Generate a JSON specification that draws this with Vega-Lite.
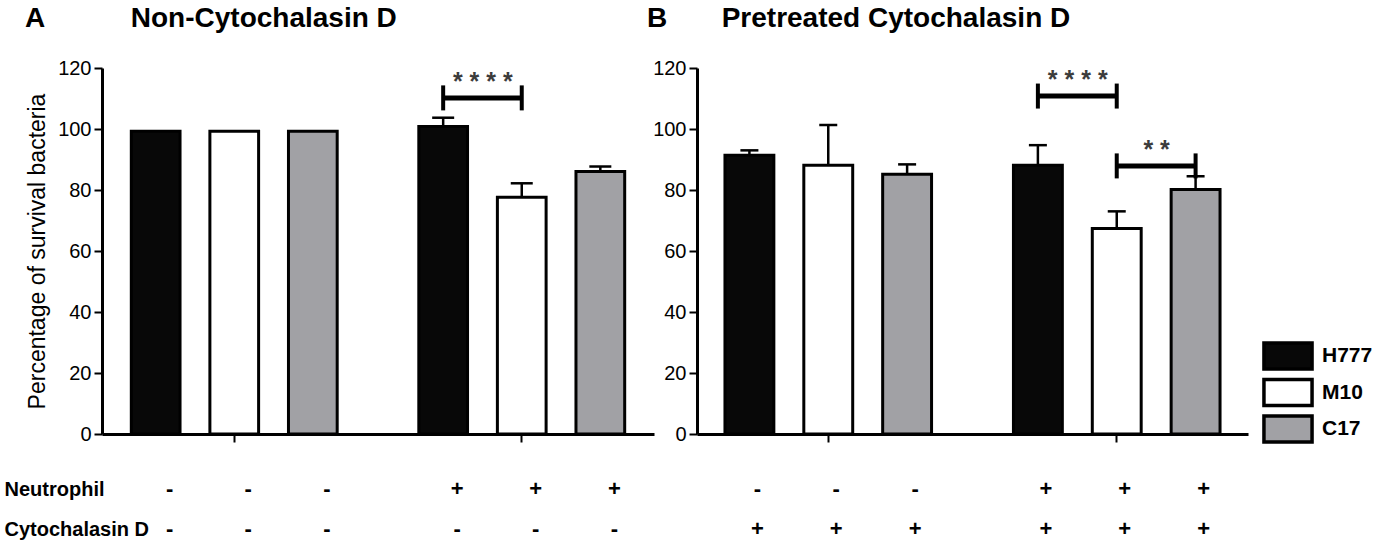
{
  "$schema": "https://vega.github.io/schema/vega-lite/v6.json",
  "background": "white",
  "padding": {"left": 4, "top": 5, "right": 5, "bottom": 5},
  "datasets": {
    "bars": [
      {"panel": "A", "Neutrophil": "-", "Cytochalasin D": "-", "strain": "H777", "mean": 99.3, "upper": null},
      {"panel": "A", "Neutrophil": "-", "Cytochalasin D": "-", "strain": "M10", "mean": 99.3, "upper": null},
      {"panel": "A", "Neutrophil": "-", "Cytochalasin D": "-", "strain": "C17", "mean": 99.3, "upper": null},
      {"panel": "A", "Neutrophil": "+", "Cytochalasin D": "-", "strain": "H777", "mean": 100.8, "upper": 103.7},
      {"panel": "A", "Neutrophil": "+", "Cytochalasin D": "-", "strain": "M10", "mean": 77.6, "upper": 82.2},
      {"panel": "A", "Neutrophil": "+", "Cytochalasin D": "-", "strain": "C17", "mean": 86.1, "upper": 87.7},
      {"panel": "B", "Neutrophil": "-", "Cytochalasin D": "+", "strain": "H777", "mean": 91.4, "upper": 93.0},
      {"panel": "B", "Neutrophil": "-", "Cytochalasin D": "+", "strain": "M10", "mean": 88.1, "upper": 101.3},
      {"panel": "B", "Neutrophil": "-", "Cytochalasin D": "+", "strain": "C17", "mean": 85.2, "upper": 88.4},
      {"panel": "B", "Neutrophil": "+", "Cytochalasin D": "+", "strain": "H777", "mean": 88.1, "upper": 94.7},
      {"panel": "B", "Neutrophil": "+", "Cytochalasin D": "+", "strain": "M10", "mean": 67.4, "upper": 73.0},
      {"panel": "B", "Neutrophil": "+", "Cytochalasin D": "+", "strain": "C17", "mean": 80.2, "upper": 84.5}
    ],
    "sig": [
      {"panel": "A", "Neutrophil": "+", "from": "H777", "to": "M10", "level": 110.2, "label": "* * * *"},
      {"panel": "B", "Neutrophil": "+", "from": "H777", "to": "M10", "level": 110.8, "label": "* * * *"},
      {"panel": "B", "Neutrophil": "+", "from": "M10", "to": "C17", "level": 87.9, "label": "* *"}
    ]
  },
  "config": {
    "font": "Liberation Sans",
    "view": {"stroke": null},
    "axis": {
      "grid": false,
      "domainColor": "#000",
      "domainWidth": 3,
      "tickColor": "#000",
      "tickWidth": 2,
      "tickSize": 8,
      "labelColor": "#000",
      "labelFontSize": 20,
      "titleColor": "#000"
    },
    "title": {"fontSize": 28, "fontWeight": "bold", "color": "#000", "anchor": "start", "frame": "group", "baseline": "alphabetic"}
  },
  "resolve": {
    "scale": {"y": "independent", "x": "independent", "xOffset": "independent", "color": "independent"},
    "legend": {"color": "independent"}
  },
  "columns": 2,
  "bounds": "flush",
  "spacing": {"row": 35, "column": 43},
  "concat": [
    {
      "width": 552,
      "height": 366,
      "title": {"text": "A\u00a0\u00a0\u00a0\u00a0\u00a0\u00a0\u00a0\u00a0\u00a0\u00a0\u00a0Non-Cytochalasin D", "dx": -77, "offset": 25},
      "encoding": {
        "x": {"field": "Neutrophil", "type": "nominal", "scale": {"domain": ["-", "+"], "paddingInner": 0.18, "paddingOuter": 0.05}, "axis": {"title": null, "labels": false}},
        "xOffset": {"field": "strain", "type": "nominal", "scale": {"domain": ["H777", "M10", "C17"], "paddingInner": 0.38, "paddingOuter": 0.19}}
      },
      "layer": [
        {
          "data": {"name": "bars"},
          "transform": [{"filter": "datum.panel == 'A'"}],
          "mark": {"type": "bar", "stroke": "#000", "strokeWidth": 3},
          "encoding": {
            "y": {"field": "mean", "type": "quantitative", "scale": {"domain": [0, 120], "nice": false}, "axis": {"values": [0, 20, 40, 60, 80, 100, 120], "title": "Percentage of survival bacteria", "titleFontSize": 23, "titleFontWeight": "normal", "titlePadding": 8, "labelPadding": 3}},
            "color": {"field": "strain", "type": "nominal", "scale": {"domain": ["H777", "M10", "C17"], "range": ["#080808", "#ffffff", "#a1a1a5"]}, "legend": null}
          }
        },
        {
          "data": {"name": "bars"},
          "transform": [{"filter": "datum.panel == 'A' && datum.upper != null"}],
          "mark": {"type": "rule", "color": "#000", "strokeWidth": 2.5},
          "encoding": {"y": {"field": "mean", "type": "quantitative"}, "y2": {"field": "upper"}}
        },
        {
          "data": {"name": "bars"},
          "transform": [{"filter": "datum.panel == 'A' && datum.upper != null"}],
          "mark": {"type": "tick", "orient": "horizontal", "color": "#000", "size": 22, "thickness": 2.5, "opacity": 1},
          "encoding": {"y": {"field": "upper", "type": "quantitative"}}
        },
        {
          "data": {"name": "sig"},
          "transform": [{"filter": "datum.panel == 'A'"}, {"fold": ["from", "to"], "as": ["end", "strain"]}, {"calculate": "datum.panel + datum.from", "as": "bracket"}],
          "mark": {"type": "line", "color": "#000", "strokeWidth": 5, "strokeCap": "butt"},
          "encoding": {"y": {"field": "level", "type": "quantitative"}, "detail": {"field": "bracket"}}
        },
        {
          "data": {"name": "sig"},
          "transform": [{"filter": "datum.panel == 'A'"}, {"fold": ["from", "to"], "as": ["end", "strain"]}],
          "mark": {"type": "tick", "orient": "vertical", "color": "#000", "size": 25, "thickness": 4, "opacity": 1},
          "encoding": {"y": {"field": "level", "type": "quantitative"}}
        },
        {
          "data": {"name": "sig"},
          "transform": [{"filter": "datum.panel == 'A'"}],
          "mark": {"type": "text", "color": "#3c3c3c", "fontSize": 25, "fontWeight": "bold", "dx": -39, "dy": -8, "baseline": "alphabetic"},
          "encoding": {"xOffset": {"field": "to", "type": "nominal"}, "y": {"field": "level", "type": "quantitative"}, "text": {"field": "label"}}
        }
      ]
    },
    {
      "width": 551,
      "height": 366,
      "title": {"text": "B\u00a0\u00a0\u00a0\u00a0\u00a0\u00a0\u00a0Pretreated Cytochalasin D", "dx": -50, "offset": 25},
      "encoding": {
        "x": {"field": "Neutrophil", "type": "nominal", "scale": {"domain": ["-", "+"], "paddingInner": 0.18, "paddingOuter": 0.045}, "axis": {"title": null, "labels": false}},
        "xOffset": {"field": "strain", "type": "nominal", "scale": {"domain": ["H777", "M10", "C17"], "paddingInner": 0.38, "paddingOuter": 0.19}}
      },
      "layer": [
        {
          "data": {"name": "bars"},
          "transform": [{"filter": "datum.panel == 'B'"}],
          "mark": {"type": "bar", "stroke": "#000", "strokeWidth": 3},
          "encoding": {
            "y": {"field": "mean", "type": "quantitative", "scale": {"domain": [0, 120], "nice": false}, "axis": {"values": [0, 20, 40, 60, 80, 100, 120], "title": null, "labelPadding": 3}},
            "color": {
              "field": "strain", "type": "nominal",
              "scale": {"domain": ["H777", "M10", "C17"], "range": ["#080808", "#ffffff", "#a1a1a5"]},
              "legend": {
                "orient": "none", "legendX": 576, "legendY": 273, "title": null, "padding": 0,
                "symbolType": "M-1.85,-1H1.85V1H-1.85Z", "symbolSize": 676, "symbolStrokeColor": "#000", "symbolStrokeWidth": 3.5,
                "labelFontSize": 21, "labelFontWeight": "bold", "labelColor": "#000", "labelOffset": 19, "rowPadding": -3.5,
                "symbolOpacity": 1
              }
            }
          }
        },
        {
          "data": {"name": "bars"},
          "transform": [{"filter": "datum.panel == 'B' && datum.upper != null"}],
          "mark": {"type": "rule", "color": "#000", "strokeWidth": 2.5},
          "encoding": {"y": {"field": "mean", "type": "quantitative"}, "y2": {"field": "upper"}}
        },
        {
          "data": {"name": "bars"},
          "transform": [{"filter": "datum.panel == 'B' && datum.upper != null"}],
          "mark": {"type": "tick", "orient": "horizontal", "color": "#000", "size": 18, "thickness": 2.5, "opacity": 1},
          "encoding": {"y": {"field": "upper", "type": "quantitative"}}
        },
        {
          "data": {"name": "sig"},
          "transform": [{"filter": "datum.panel == 'B'"}, {"fold": ["from", "to"], "as": ["end", "strain"]}, {"calculate": "datum.panel + datum.from", "as": "bracket"}],
          "mark": {"type": "line", "color": "#000", "strokeWidth": 5, "strokeCap": "butt"},
          "encoding": {"y": {"field": "level", "type": "quantitative"}, "detail": {"field": "bracket"}}
        },
        {
          "data": {"name": "sig"},
          "transform": [{"filter": "datum.panel == 'B'"}, {"fold": ["from", "to"], "as": ["end", "strain"]}],
          "mark": {"type": "tick", "orient": "vertical", "color": "#000", "size": 25, "thickness": 4, "opacity": 1},
          "encoding": {"y": {"field": "level", "type": "quantitative"}}
        },
        {
          "data": {"name": "sig"},
          "transform": [{"filter": "datum.panel == 'B'"}],
          "mark": {"type": "text", "color": "#3c3c3c", "fontSize": 25, "fontWeight": "bold", "dx": -39, "dy": -8, "baseline": "alphabetic"},
          "encoding": {"xOffset": {"field": "to", "type": "nominal"}, "y": {"field": "level", "type": "quantitative"}, "text": {"field": "label"}}
        }
      ]
    },
    {
      "width": 552,
      "height": 80,
      "data": {"name": "bars"},
      "transform": [{"filter": "datum.panel == 'A'"}, {"fold": ["Neutrophil", "Cytochalasin D"], "as": ["row", "sign"]}],
      "mark": {"type": "text", "fontSize": 22, "fontWeight": "bold", "color": "#000", "dx": 14},
      "encoding": {
        "x": {"field": "Neutrophil", "type": "nominal", "scale": {"type": "band", "domain": ["-", "+"], "paddingInner": 0.18, "paddingOuter": 0.05}, "axis": null},
        "xOffset": {"field": "strain", "type": "nominal", "scale": {"type": "band", "domain": ["H777", "M10", "C17"], "paddingInner": 0.38, "paddingOuter": 0.19}},
        "y": {"field": "row", "type": "nominal", "scale": {"type": "point", "domain": ["Neutrophil", "Cytochalasin D"], "padding": 0.5}, "axis": {"title": null, "domain": false, "ticks": false, "tickSize": 0, "labelAlign": "left", "labelPadding": 98, "labelFontSize": 20, "labelFontWeight": "bold"}},
        "text": {"field": "sign"}
      }
    },
    {
      "width": 551,
      "height": 80,
      "data": {"name": "bars"},
      "transform": [{"filter": "datum.panel == 'B'"}, {"fold": ["Neutrophil", "Cytochalasin D"], "as": ["row", "sign"]}],
      "mark": {"type": "text", "fontSize": 22, "fontWeight": "bold", "color": "#000", "dx": 8},
      "encoding": {
        "x": {"field": "Neutrophil", "type": "nominal", "scale": {"type": "band", "domain": ["-", "+"], "paddingInner": 0.18, "paddingOuter": 0.045}, "axis": null},
        "xOffset": {"field": "strain", "type": "nominal", "scale": {"type": "band", "domain": ["H777", "M10", "C17"], "paddingInner": 0.38, "paddingOuter": 0.19}},
        "y": {"field": "row", "type": "nominal", "scale": {"type": "point", "domain": ["Neutrophil", "Cytochalasin D"], "padding": 0.5}, "axis": null},
        "text": {"field": "sign"}
      }
    }
  ]
}
